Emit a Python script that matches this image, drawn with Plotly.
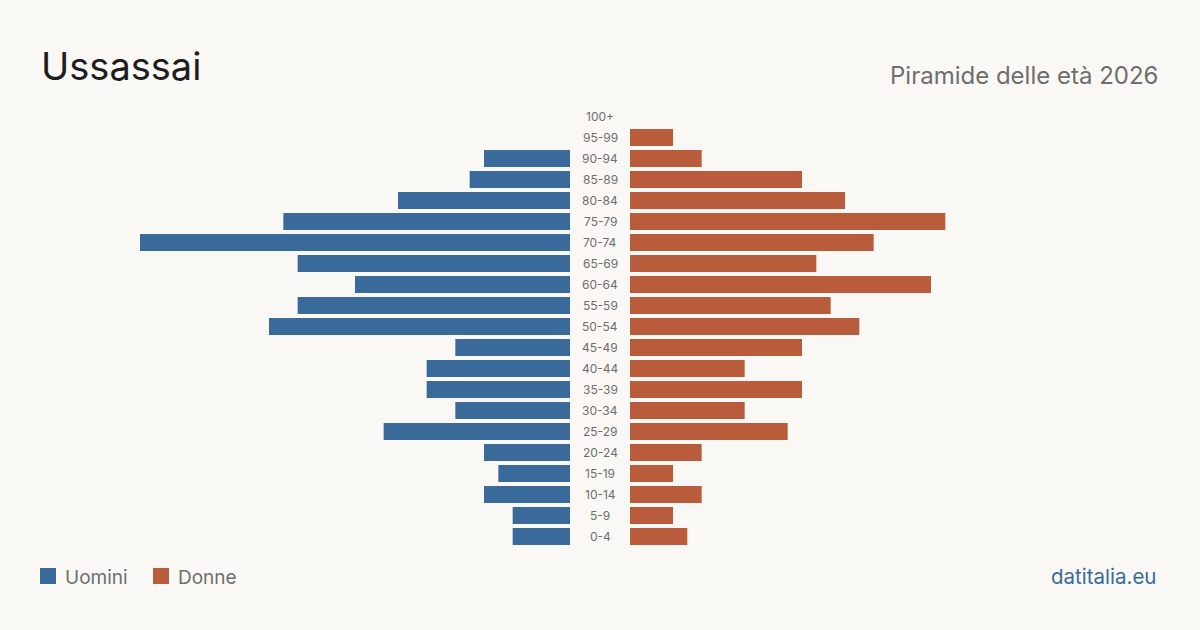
import plotly.graph_objects as go

age_groups = ["0-4", "5-9", "10-14", "15-19", "20-24", "25-29", "30-34", "35-39",
              "40-44", "45-49", "50-54", "55-59", "60-64", "65-69", "70-74", "75-79",
              "80-84", "85-89", "90-94", "95-99", "100+"]
men = [4, 4, 6, 5, 6, 13, 8, 10, 10, 8, 21, 19, 15, 19, 30, 20, 12, 7, 6, 0, 0]
women = [4, 3, 5, 3, 5, 11, 8, 12, 8, 12, 16, 14, 21, 13, 17, 22, 15, 12, 5, 3, 0]

W, H = 1200, 630
BG = "#f9f8f4"
BLUE = "#3a6a9a"
ORANGE = "#b85c3c"
MAXV = 30

top, bottom = 106, 547
PH = bottom - top


def py(p):
    return (bottom - p) / PH


fig = go.Figure()
fig.add_trace(go.Bar(y=age_groups, x=men, orientation="h", marker_color=BLUE,
                     marker_line_width=0, xaxis="x", yaxis="y", hoverinfo="x+y", name="Uomini"))
fig.add_trace(go.Bar(y=age_groups, x=women, orientation="h", marker_color=ORANGE,
                     marker_line_width=0, xaxis="x2", yaxis="y", hoverinfo="x+y", name="Donne"))

annotations = []
for g in age_groups:
    annotations.append(dict(x=0.5, xref="paper", y=g, yref="y", text=g, showarrow=False,
                            font=dict(family="Inter", size=12, color="#6e6e6e"),
                            xanchor="center", yanchor="middle"))

annotations += [
    dict(x=39 / W, y=py(66), xref="paper", yref="paper", text="Ussassai", showarrow=False,
         xanchor="left", yanchor="middle", font=dict(family="Inter", size=38, color="#1e1e1e")),
    dict(x=1160 / W, y=py(76), xref="paper", yref="paper", text="Piramide delle età 2026",
         showarrow=False, xanchor="right", yanchor="middle",
         font=dict(family="Inter", size=24, color="#6e6e6e")),
    dict(x=63 / W, y=py(577), xref="paper", yref="paper", text="Uomini", showarrow=False,
         xanchor="left", yanchor="middle", font=dict(family="Inter", size=19, color="#6e6e6e")),
    dict(x=176 / W, y=py(577), xref="paper", yref="paper", text="Donne", showarrow=False,
         xanchor="left", yanchor="middle", font=dict(family="Inter", size=19, color="#6e6e6e")),
    dict(x=1158 / W, y=py(576), xref="paper", yref="paper", text="datitalia.eu", showarrow=False,
         xanchor="right", yanchor="middle", font=dict(family="Inter", size=20.5, color=BLUE)),
]

shapes = [
    dict(type="rect", xref="paper", yref="paper", x0=40 / W, x1=56 / W, y0=py(584), y1=py(568),
         fillcolor=BLUE, line_width=0),
    dict(type="rect", xref="paper", yref="paper", x0=153 / W, x1=169 / W, y0=py(584), y1=py(568),
         fillcolor=ORANGE, line_width=0),
]

fig.update_layout(
    width=W, height=H,
    margin=dict(l=0, r=0, t=top, b=H - bottom, pad=0),
    paper_bgcolor=BG, plot_bgcolor=BG,
    showlegend=False,
    bargap=0.19,
    xaxis=dict(domain=[140 / W, 570 / W], range=[MAXV, 0], visible=False, fixedrange=True),
    xaxis2=dict(domain=[630 / W, 1060 / W], range=[0, MAXV], visible=False, fixedrange=True),
    yaxis=dict(categoryorder="array", categoryarray=age_groups, range=[-0.5, 20.5],
               visible=False, fixedrange=True),
    annotations=annotations,
    shapes=shapes,
)

fig.write_html("out.html")
